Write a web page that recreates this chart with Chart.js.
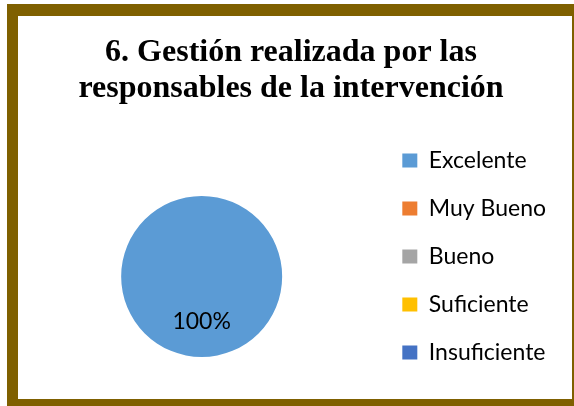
<!DOCTYPE html>
<html>
<head>
<meta charset="utf-8">
<script src="https://cdn.jsdelivr.net/npm/chart.js@4"></script>
<style>
  html, body { margin: 0; padding: 0; background: #fff; }
  #wrap { position: relative; width: 574px; height: 406px; overflow: hidden; }
  #frame {
    position: absolute; left: 7px; top: 4px; width: 554px; height: 383px;
    border: 11px solid #7F6000; border-top-width: 12px; pointer-events: none;
  }
  canvas { position: absolute; left: 0; top: 0; }
</style>
</head>
<body>
<div id="wrap">
  <canvas id="chart" width="574" height="406"></canvas>
  <div id="frame"></div>
</div>
<script>
const categories = ['Excelente', 'Muy Bueno', 'Bueno', 'Suficiente', 'Insuficiente'];
const values = [100, 0, 0, 0, 0];
const colors = ['#5B9BD5', '#ED7D31', '#A5A5A5', '#FFC000', '#4472C4'];
const titleLines = ['6. Gestión realizada por las', 'responsables de la intervención'];

// percentage label drawn at the middle angle of each slice
const sliceLabels = {
    id: 'sliceLabels',
    afterDatasetsDraw(chart) {
        const ctx = chart.ctx;
        const meta = chart.getDatasetMeta(0);
        const total = values.reduce((a, b) => a + b, 0);
        ctx.save();
        ctx.font = '23px Lato';
        ctx.fillStyle = '#000';
        ctx.textAlign = 'center';
        ctx.textBaseline = 'middle';
        meta.data.forEach((arc, i) => {
            if (!values[i]) return;
            const p = arc.getProps(['x', 'y', 'startAngle', 'endAngle', 'outerRadius'], true);
            const mid = (p.startAngle + p.endAngle) / 2;
            const r = p.outerRadius * 0.565;
            const pct = Math.round(values[i] / total * 100) + '%';
            ctx.fillText(pct, p.x + Math.cos(mid) * r, p.y + Math.sin(mid) * r);
        });
        ctx.restore();
    }
};

new Chart(document.getElementById('chart').getContext('2d'), {
    type: 'pie',
    data: {
        labels: categories,
        datasets: [{
            data: values,
            backgroundColor: colors,
            borderWidth: 0,
            radius: 80.5
        }]
    },
    options: {
        responsive: false,
        animation: false,
        layout: { padding: { left: 26, right: 18, top: 0, bottom: 0 } },
        plugins: {
            tooltip: { enabled: false },
            title: {
                display: true,
                text: titleLines,
                color: '#000',
                font: { family: 'Liberation Serif', weight: 'bold', size: 32, lineHeight: 1.14 },
                padding: { top: 34, bottom: 40 }
            },
            legend: {
                position: 'right',
                align: 'center',
                fullSize: true,
                title: { display: true, text: ' ', font: { size: 10, lineHeight: 1.2 }, padding: { top: 95, bottom: 0 } },
                labels: {
                    color: '#000',
                    font: { family: 'Lato', size: 23 },
                    boxWidth: 15,
                    boxHeight: 14,
                    padding: 25
                }
            }
        }
    },
    plugins: [sliceLabels]
});
</script>
</body>
</html>
